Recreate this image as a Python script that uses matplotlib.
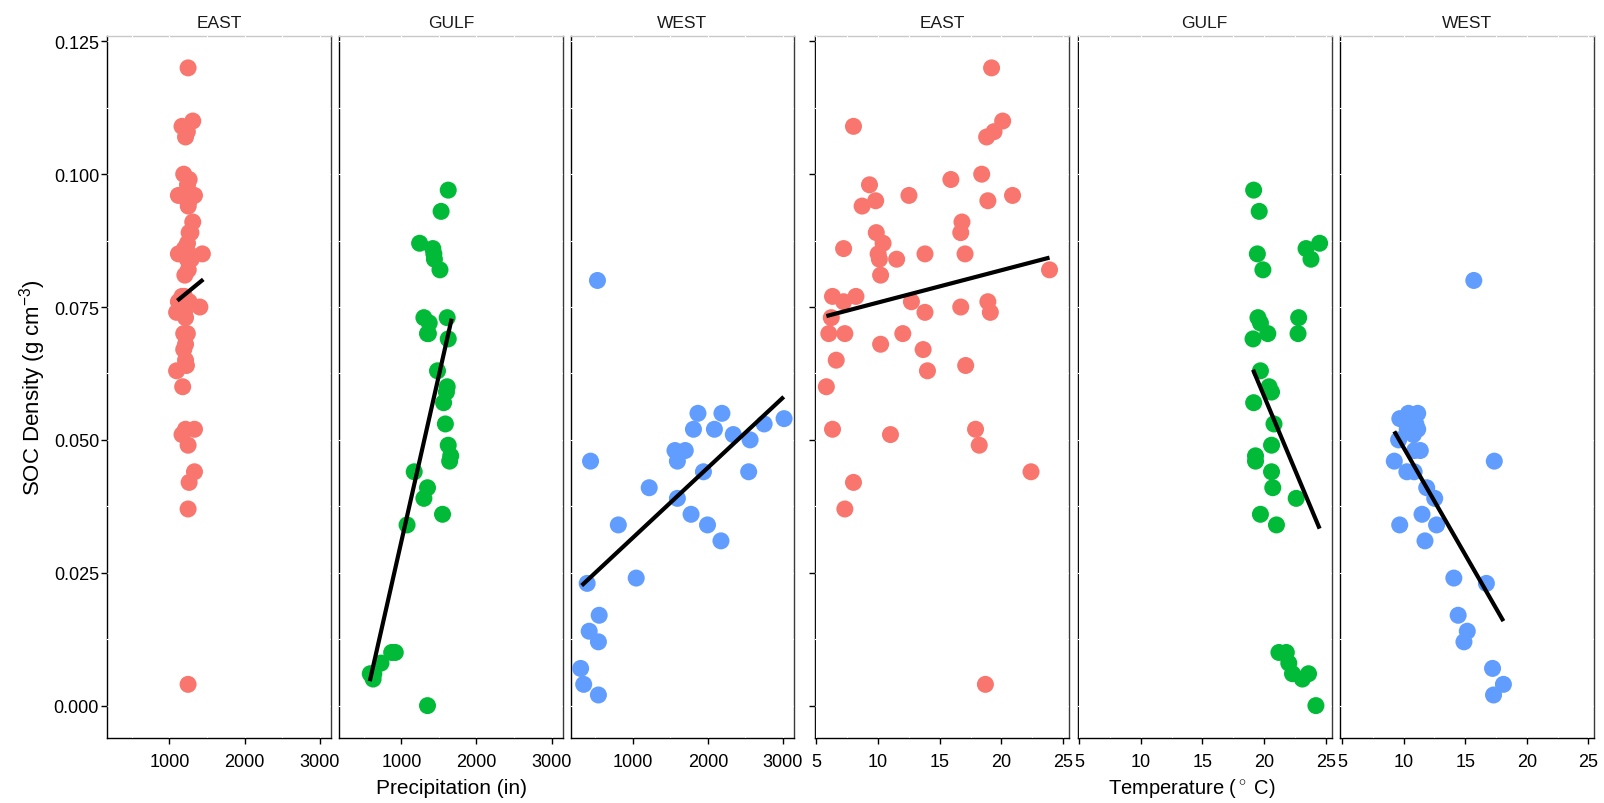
import matplotlib
matplotlib.use("Agg")
import matplotlib.pyplot as plt
from matplotlib.ticker import FixedLocator, MultipleLocator

plt.rcParams["font.family"] = ["Liberation Sans", "DejaVu Sans"]
plt.rcParams["mathtext.fontset"] = "custom"
plt.rcParams["mathtext.rm"] = "Liberation Sans"
plt.rcParams["mathtext.it"] = "Liberation Sans:italic"
plt.rcParams["mathtext.bf"] = "Liberation Sans:bold"

REGIONS = ["EAST", "GULF", "WEST"]
COLORS = ["#F8766D", "#00BA38", "#619CFF"]

# --- SOC density (g cm-3), precipitation and temperature per site ---
east_soc = [0.120, 0.110, 0.109, 0.108, 0.107, 0.100, 0.099, 0.098, 0.096, 0.096,
            0.095, 0.095, 0.094, 0.091, 0.089, 0.089, 0.087, 0.086, 0.085, 0.085,
            0.085, 0.084, 0.084, 0.082, 0.081, 0.077, 0.077, 0.076, 0.076, 0.076,
            0.075, 0.074, 0.074, 0.073, 0.070, 0.070, 0.070, 0.068, 0.067, 0.065,
            0.064, 0.063, 0.060, 0.052, 0.052, 0.051, 0.049, 0.044, 0.042, 0.037,
            0.004]
east_precip = [1248, 1310, 1167, 1238, 1214, 1190, 1262, 1240, 1119, 1333,
               1238, 1262, 1250, 1310, 1286, 1262, 1240, 1200, 1119, 1262,
               1438, 1238, 1290, 1250, 1205, 1167, 1200, 1119, 1238, 1262,
               1405, 1095, 1200, 1214, 1190, 1214, 1238, 1214, 1190, 1214,
               1226, 1095, 1176, 1214, 1333, 1167, 1248, 1333, 1262, 1248,
               1248]
east_temp = [19.2, 20.1, 8.0, 19.4, 18.8, 18.4, 15.9, 9.3, 12.5, 20.9,
             9.8, 18.9, 8.7, 16.8, 16.7, 9.85, 10.4, 7.2, 10.0, 13.8,
             17.05, 10.1, 11.5, 23.9, 10.2, 6.3, 8.2, 7.2, 12.7, 18.9,
             16.7, 13.8, 19.1, 6.2, 6.0, 7.3, 12.0, 10.2, 13.65, 6.6,
             17.1, 14.0, 5.8, 6.3, 17.9, 11.0, 18.2, 22.4, 8.0, 7.3,
             18.7]

gulf_soc = [0.097, 0.093, 0.087, 0.086, 0.085, 0.084, 0.082, 0.073, 0.073, 0.072,
            0.070, 0.070, 0.069, 0.063, 0.060, 0.059, 0.057, 0.053, 0.049, 0.047,
            0.046, 0.044, 0.041, 0.039, 0.036, 0.034, 0.010, 0.010, 0.008, 0.006,
            0.006, 0.005, 0.000]
gulf_precip = [1624, 1529, 1243, 1419, 1433, 1440, 1514, 1300, 1610, 1371,
               1348, 1360, 1624, 1481, 1610, 1600, 1562, 1586, 1624, 1657,
               1643, 1171, 1348, 1300, 1548, 1076, 871, 919, 729, 633,
               586, 624, 1348]
gulf_temp = [19.15, 19.6, 24.5, 23.4, 19.45, 23.8, 19.9, 19.5, 22.8, 19.7,
             20.3, 22.75, 19.1, 19.7, 20.4, 20.6, 19.15, 20.8, 20.6, 19.3,
             19.3, 20.6, 20.7, 22.6, 19.7, 21.0, 21.2, 21.8, 22.0, 22.3,
             23.6, 23.1, 24.2]

west_soc = [0.080, 0.055, 0.055, 0.054, 0.053, 0.052, 0.052, 0.051, 0.050, 0.048,
            0.048, 0.046, 0.046, 0.044, 0.044, 0.041, 0.039, 0.036, 0.034, 0.034,
            0.031, 0.024, 0.023, 0.017, 0.014, 0.012, 0.007, 0.004, 0.002]
west_precip = [530, 1868, 2187, 3014, 2749, 1808, 2087, 2338, 2562, 1562,
               1699, 438, 1594, 1941, 2543, 1219, 1594, 1776, 808, 1995,
               2174, 1046, 393, 553, 420, 543, 306, 347, 543]
west_temp = [15.7, 10.4, 11.15, 9.7, 11.0, 10.3, 11.15, 10.8, 9.6, 11.36,
             10.9, 17.36, 9.25, 10.27, 10.86, 11.88, 12.53, 11.5, 9.69, 12.68,
             11.74, 14.08, 16.72, 14.43, 15.17, 14.9, 17.22, 18.1, 17.3]

# linear fits as drawn (start/end), EAST, GULF, WEST
precip_fit_x0 = [1105, 580, 320]
precip_fit_x1 = [1450, 1670, 3010]
precip_fit_y0 = [0.0762, 0.0046, 0.0226]
precip_fit_y1 = [0.0802, 0.0728, 0.0581]
temp_fit_x0 = [5.8, 19.1, 9.25]
temp_fit_x1 = [23.9, 24.5, 18.1]
temp_fit_y0 = [0.0733, 0.0632, 0.0516]
temp_fit_y1 = [0.0843, 0.0333, 0.0159]

precip_ticks = [1000, 2000, 3000]
temp_ticks = [5, 10, 15, 20, 25]
soc_ticks = [0.000, 0.025, 0.050, 0.075, 0.100, 0.125]

soc = [east_soc, gulf_soc, west_soc]
precip = [east_precip, gulf_precip, west_precip]
temp = [east_temp, gulf_temp, west_temp]

W, H = 1604, 804
TOP, BOTTOM = 37, 738.5
fig = plt.figure(figsize=(W / 100, H / 100), dpi=100)
fig.patch.set_facecolor("white")


def make_panel(left, width, xlim, xticks, xminor, show_yticks, show_ylabels):
    ax = fig.add_axes([left / W, 1 - BOTTOM / H, width / W, (BOTTOM - TOP) / H])
    ax.set_xlim(*xlim)
    ax.set_ylim(-0.006, 0.126)
    ax.xaxis.set_major_locator(FixedLocator(xticks))
    ax.xaxis.set_minor_locator(MultipleLocator(xminor))
    ax.yaxis.set_major_locator(FixedLocator(soc_ticks))
    ax.yaxis.set_minor_locator(MultipleLocator(0.0125))
    ax.set_axisbelow(True)
    ax.grid(True, which="both", color="white", lw=0.8)
    for side, col in [("left", "black"), ("bottom", "black"),
                      ("right", "#3a3a3a"), ("top", "#c8c8c8")]:
        ax.spines[side].set_color(col)
        ax.spines[side].set_linewidth(1.0)
        ax.spines[side].set_zorder(0.4)
    ax.tick_params(which="minor", length=0)
    ax.tick_params(axis="x", which="major", length=4, width=1, color="black",
                   labelsize=13, pad=7.5, labelcolor="black")
    ax.tick_params(axis="y", which="major", length=4 if show_yticks else 0, width=1,
                   color="black", labelsize=13, pad=2, labelcolor="black",
                   labelleft=show_ylabels)
    if show_ylabels:
        ax.set_yticklabels([f"{t:.3f}" for t in soc_ticks])
    return ax


left_group = [107.4, 339.3, 570.7]
right_group = [815.0, 1077.7, 1340.4]

for i, region in enumerate(REGIONS):
    ax = make_panel(left_group[i], 223.5, (174, 3149), precip_ticks, 500,
                    show_yticks=(i == 0), show_ylabels=(i == 0))
    ax.scatter(precip[i], soc[i], s=150, c=COLORS[i], edgecolors="none", zorder=3)
    ax.plot([precip_fit_x0[i], precip_fit_x1[i]], [precip_fit_y0[i], precip_fit_y1[i]],
            color="black", lw=3.0, solid_capstyle="butt", zorder=4)
    fig.text((left_group[i] + 223.5 / 2) / W, 1 - 23 / H, region,
             ha="center", va="center", fontsize=12.5, color="#1a1a1a")

    ax = make_panel(right_group[i], 254.0, (4.88, 25.48), temp_ticks, 2.5,
                    show_yticks=(i == 0), show_ylabels=False)
    ax.scatter(temp[i], soc[i], s=150, c=COLORS[i], edgecolors="none", zorder=3)
    ax.plot([temp_fit_x0[i], temp_fit_x1[i]], [temp_fit_y0[i], temp_fit_y1[i]],
            color="black", lw=3.0, solid_capstyle="butt", zorder=4)
    fig.text((right_group[i] + 254.0 / 2) / W, 1 - 23 / H, region,
             ha="center", va="center", fontsize=12.5, color="#1a1a1a")

fig.text(33 / W, 1 - 388 / H, r"SOC Density (g cm$^{-3}$)", rotation=90,
         ha="center", va="center", fontsize=16)
fig.text(451 / W, 1 - 789 / H, "Precipitation (in)",
         ha="center", va="center", fontsize=15)
fig.text(1192 / W, 1 - 789 / H, r"Temperature ($^\circ$ C)",
         ha="center", va="center", fontsize=14.5)

fig.savefig("out.png", dpi=100, facecolor="white")
